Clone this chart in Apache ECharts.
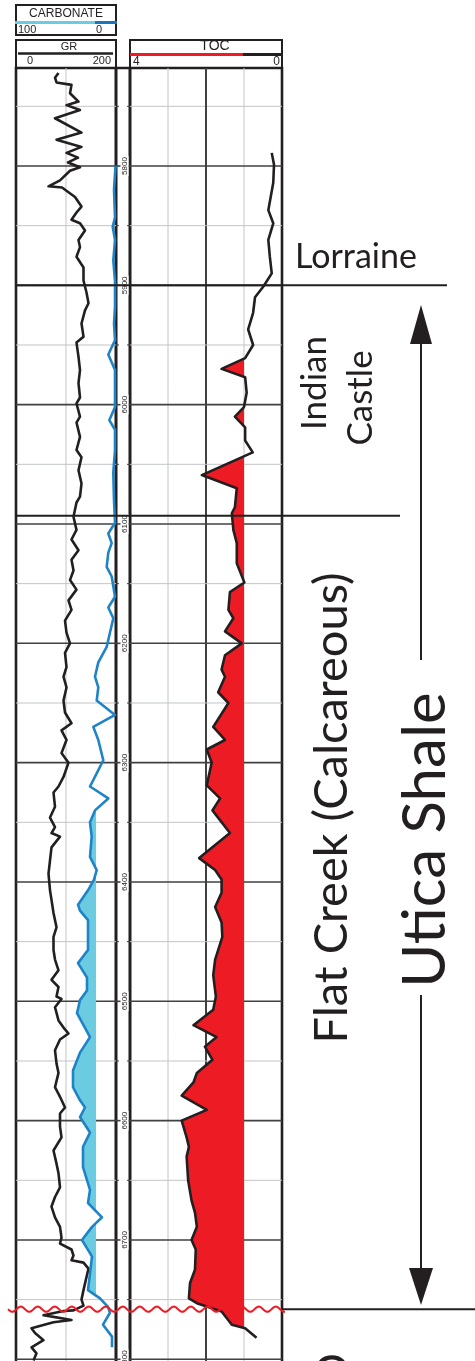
<!DOCTYPE html>
<html><head><meta charset="utf-8">
<script src="https://cdn.jsdelivr.net/npm/echarts@6/dist/echarts.min.js"></script>
<style>html,body{margin:0;padding:0;background:#fff;}#c{width:475px;height:1361px;}</style>
</head><body><div id="c"></div>
<script>
// ---------------- DATA ----------------
const grDepths = [5722,5726,5730,5732,5739,5746,5749,5753,5760,5772,5778,5784,5789,5793,5797,5801,5804,5812,5817,5818,5826,5834,5839,5845,5848,5854,5862,5868,5876,5885,5896,5906,5915,5921,5932,5943,5948,5960,5971,5982,5994,5999,6010,6015,6027,6038,6044,6055,6066,6077,6082,6094,6105,6113,6122,6130,6139,6147,6155,6164,6172,6181,6191,6200,6208,6220,6228,6237,6248,6258,6267,6273,6281,6292,6300,6312,6320,6325,6337,6346,6354,6359,6362,6371,6382,6393,6407,6415,6426,6438,6446,6457,6465,6474,6482,6488,6496,6498,6505,6516,6522,6527,6532,6541,6552,6560,6572,6580,6589,6594,6605,6614,6625,6636,6644,6656,6664,6672,6681,6689,6698,6703,6708,6713,6717,6719,6724,6731,6742,6750,6755,6759,6759.5,6763,6767,6769,6774,6778,6784,6790,6795,6801];
const grValues = [85,78,81,111,108,125,101,128,78,131,81,131,101,124,104,128,108,88,65,92,118,131,121,111,128,138,125,128,121,135,135,141,145,138,131,135,121,125,128,125,128,121,128,121,128,121,131,125,131,128,121,115,121,111,125,111,115,108,121,105,111,98,101,108,98,101,95,101,95,98,111,91,101,91,105,95,85,75,78,68,78,71,88,71,68,65,68,71,75,81,75,75,78,85,71,85,81,91,78,85,95,105,88,78,81,85,78,88,98,88,88,91,75,81,85,88,78,71,78,88,91,88,111,115,111,135,145,141,135,131,135,115,95,55,111,75,31,38,55,31,41,35];

const carbDepths = [5800,5820,5843,5851,5862,5879,5896,5918,5932,5946,5958,5971,5990,6002,6013,6021,6038,6057,6080,6099,6108,6116,6124,6136,6144,6161,6170,6179,6191,6203,6216,6228,6237,6248,6260,6270,6281,6298,6309,6320,6330,6340,6350,6362,6379,6390,6398,6407,6419,6424,6432,6443,6457,6468,6480,6491,6499,6510,6530,6543,6558,6572,6583,6589,6597,6610,6622,6639,6658,6669,6681,6689,6700,6711,6714,6728,6742,6749,6756,6761,6771,6781,6790];
const carbValues = [0.5,2,1,3.3,1,2.7,1,1,2,1,7.7,1,1,1,6.7,1,1,2.7,2,1,7.7,4.3,7.7,9.3,4.3,1,7.7,2.7,6,9.3,17.7,21,17.7,19.3,1,22.7,17.7,12.7,19.3,26,7.7,21,26,24.3,26,19.3,22,28,38,36,28,28,28,38,29,29,36,39,26,36,43,43,36,31,36,26,33,33,26,28,14,24,34,26,24,26,28,16,8,6,13,4,4];

const tocDepths = [5789,5799,5814,5837,5848,5862,5876,5890,5901,5910,5923,5937,5950,5961,5970,5977,5990,6002,6010,6019,6030,6040,6059,6070,6086,6091,6105,6116,6133,6149,6157,6172,6179,6190,6200,6210,6222,6228,6241,6250,6270,6281,6289,6300,6319,6330,6340,6359,6380,6390,6398,6409,6421,6434,6446,6465,6478,6496,6507,6520,6530,6538,6549,6560,6568,6579,6591,6600,6614,6622,6630,6650,6667,6677,6689,6700,6708,6725,6736,6749,6753,6760,6771,6774,6782];
const tocValues = [0.27,0.21,0.23,0.36,0.23,0.36,0.32,0.27,0.49,0.71,0.76,0.89,0.76,0.97,1.59,0.97,0.93,1.0,1.24,0.97,0.97,0.77,2.11,1.19,1.24,1.32,1.28,1.19,1.19,0.99,1.37,1.41,1.28,1.5,1.06,1.5,1.59,1.5,1.68,1.41,1.81,1.5,1.98,1.85,1.98,1.63,1.83,1.37,2.18,1.76,1.59,1.59,1.76,1.59,1.57,1.76,1.81,1.74,1.81,2.33,1.72,2.03,1.83,2.24,2.33,2.64,1.98,2.64,2.51,2.45,2.51,2.47,2.38,2.29,2.24,2.38,2.27,2.29,2.42,2.45,2.24,1.59,1.32,0.97,0.67];

const depthGrid = [5750,5800,5850,5900,5950,6000,6050,6100,6150,6200,6250,6300,6350,6400,6450,6500,6550,6600,6650,6700,6750,6800];
const depthLabelValues = [5800,5900,6000,6100,6200,6300,6400,6500,6600,6700,6800];
const depthLabelTexts = ['5800','5900','6000','6100','6200','6300','6400','6500','6600','6700','6800'];

const formationTops = [5900, 6093, 6758];   // Lorraine base, Flat Creek top, Utica base
const tocCutoff = 1;
const carbCutoff = 20;
const carbFillFrom = 6338;

// ---------------- LAYOUT ----------------
const TOP = 68, H = 1300;
const PX_PER_FT = 1.1933;
const DMIN = 5800 - (166 - TOP) / PX_PER_FT;
const DMAX = DMIN + H / PX_PER_FT;
const INK = '#231f20', MAJOR = '#414042', MINOR = '#c3c4c6';
const RED = '#ed1c24', BLUE = '#1f84c6', LBLUE = '#6bcbe0', DBLUE = '#1b75bc';

const pairs = (ds, vs) => ds.map((d, i) => [vs[i], d]);

function buildFill(depths, values, cutoff, dFrom) {
  const pts = [];
  let started = false;
  for (let i = 0; i < depths.length; i++) {
    const d = depths[i], v = values[i];
    if (d < dFrom) continue;
    if (started) {
      const pd = depths[i - 1], pv = values[i - 1];
      if ((pv - cutoff) * (v - cutoff) < 0) {
        const t = (cutoff - pv) / (v - pv);
        pts.push([cutoff, pd + t * (d - pd)]);
      }
    }
    pts.push([Math.max(v, cutoff), d]);
    started = true;
  }
  pts.push([cutoff, pts[pts.length - 1][1]]);
  pts.push([cutoff, pts[0][1]]);
  return pts;
}
const tocFill = buildFill(tocDepths, tocValues, tocCutoff, 0);
const carbFill = buildFill(carbDepths, carbValues, carbCutoff, carbFillFrom);

function gridLines(xi, yi, xmin, xmax, vlines) {
  return {
    type: 'custom', xAxisIndex: xi, yAxisIndex: yi, z: 1, silent: true,
    data: depthGrid.map(d => [xmin, d]),
    encode: { x: 0, y: 1 },
    renderItem(params, api) {
      const d = api.value(1);
      const a = api.coord([xmin, d]), b = api.coord([xmax, d]);
      const major = d % 100 === 0;
      const children = [{ type: 'line', shape: { x1: a[0], y1: a[1], x2: b[0], y2: b[1] },
        style: { stroke: major ? MAJOR : MINOR, lineWidth: major ? 1.6 : 1 } }];
      if (params.dataIndex === 0 && vlines) {
        vlines.forEach(v => {
          const t = api.coord([v.x, DMIN]), u = api.coord([v.x, DMAX]);
          children.push({ type: 'line', shape: { x1: t[0], y1: t[1], x2: u[0], y2: u[1] },
            style: { stroke: v.major ? MAJOR : MINOR, lineWidth: v.major ? 2 : 1 } });
        });
      }
      return { type: 'group', children };
    }
  };
}

const gridBase = { top: TOP, height: H, show: true, borderColor: INK, borderWidth: 2.6, backgroundColor: 'transparent', outerBoundsMode: 'none', containLabel: false };

const option = {
  animation: false,
  backgroundColor: '#fff',
  grid: [
    Object.assign({ left: 16, width: 100 }, gridBase),
    Object.assign({ left: 116, width: 14 }, gridBase),
    Object.assign({ left: 130, width: 152 }, gridBase)
  ],
  xAxis: [
    { gridIndex: 0, type: 'value', min: 0, max: 200, show: false },
    { gridIndex: 0, type: 'value', min: 0, max: 100, inverse: true, show: false },
    { gridIndex: 1, type: 'value', min: 0, max: 1, show: false },
    { gridIndex: 2, type: 'value', min: 0, max: 4, inverse: true, show: false }
  ],
  yAxis: [0, 1, 2].map(g => ({ gridIndex: g, type: 'value', min: DMIN, max: DMAX, inverse: true, show: false })),
  series: [
    gridLines(0, 0, 0, 200, [{ x: 100 }]),
    gridLines(3, 2, 0, 4, [{ x: 1 }, { x: 2, major: true }, { x: 3 }]),
    {
      type: 'custom', xAxisIndex: 2, yAxisIndex: 1, z: 1, silent: true,
      data: depthGrid.map(d => [0, d]), encode: { x: 0, y: 1 },
      renderItem(params, api) {
        const d = api.value(1);
        const a = api.coord([0, d]), b = api.coord([1, d]);
        const li = depthLabelValues.indexOf(d);
        const ch = [];
        if (d % 100 === 0) {
          ch.push({ type: 'line', shape: { x1: a[0], y1: a[1], x2: b[0], y2: b[1] }, style: { stroke: MAJOR, lineWidth: 1.6 } });
        } else {
          ch.push({ type: 'line', shape: { x1: a[0], y1: a[1], x2: a[0] + 3, y2: a[1] }, style: { stroke: MAJOR, lineWidth: 1 } });
          ch.push({ type: 'line', shape: { x1: b[0] - 3, y1: b[1], x2: b[0], y2: b[1] }, style: { stroke: MAJOR, lineWidth: 1 } });
        }
        if (li >= 0) {
          ch.push({ type: 'text', x: a[0] + 8.5, y: a[1], rotation: Math.PI / 2,
            style: { text: depthLabelTexts[li], fontSize: 8, fontFamily: 'Liberation Sans', fill: INK,
              align: 'center', verticalAlign: 'middle', backgroundColor: '#fff', padding: [0, 1] } });
        }
        return { type: 'group', children: ch };
      }
    },
    {
      type: 'custom', xAxisIndex: 1, yAxisIndex: 0, z: 2, silent: true,
      data: [[carbCutoff, carbFillFrom]], encode: { x: 0, y: 1 },
      renderItem: (p, api) => ({ type: 'polygon', shape: { points: carbFill.map(q => api.coord(q)) }, style: { fill: LBLUE } })
    },
    {
      type: 'custom', xAxisIndex: 3, yAxisIndex: 2, z: 2, silent: true,
      data: [[tocCutoff, tocDepths[0]]], encode: { x: 0, y: 1 },
      renderItem: (p, api) => ({ type: 'polygon', shape: { points: tocFill.map(q => api.coord(q)) }, style: { fill: RED } })
    },
    { name: 'GR', type: 'line', xAxisIndex: 0, yAxisIndex: 0, z: 3, data: pairs(grDepths, grValues),
      symbol: 'none', lineStyle: { color: INK, width: 2.6, join: 'round' } },
    { name: 'CARBONATE', type: 'line', xAxisIndex: 1, yAxisIndex: 0, z: 3, data: pairs(carbDepths, carbValues),
      symbol: 'none', lineStyle: { color: BLUE, width: 2.6, join: 'round' } },
    { name: 'TOC', type: 'line', xAxisIndex: 3, yAxisIndex: 2, z: 3, data: pairs(tocDepths, tocValues),
      symbol: 'none', lineStyle: { color: INK, width: 2.6, join: 'round' } },
    {
      type: 'custom', xAxisIndex: 0, yAxisIndex: 0, z: 5, silent: true, clip: false,
      data: formationTops.map(d => [0, d]), encode: { x: 0, y: 1 },
      renderItem(params, api) {
        const d = api.value(1);
        const p = api.coord([0, d]);
        const y = p[1];
        const i = params.dataIndex;
        if (i < 2) {
          const xEnd = i === 0 ? 447 : 400;
          return { type: 'line', shape: { x1: p[0], y1: y, x2: xEnd, y2: y }, style: { stroke: INK, lineWidth: 2 } };
        }
        const pts = [];
        for (let x = 8; x <= 285; x += 1) pts.push([x, y + 2.6 * Math.sin((x - 8) / 17 * 2 * Math.PI)]);
        return { type: 'group', children: [
          { type: 'line', shape: { x1: 283, y1: y, x2: 475, y2: y }, style: { stroke: INK, lineWidth: 2 } },
          { type: 'polyline', shape: { points: pts }, style: { stroke: RED, lineWidth: 2, fill: null } }
        ] };
      }
    }
  ],
  graphic: [
    // CARBONATE header
    { type: 'rect', shape: { x: 16, y: 5, width: 100, height: 30 }, style: { fill: 'none', stroke: INK, lineWidth: 2 } },
    { type: 'text', x: 66, y: 13.5, style: { text: 'CARBONATE', fontSize: 12, fontFamily: 'Liberation Sans', fill: INK, align: 'center', verticalAlign: 'middle' } },
    { type: 'line', shape: { x1: 15, y1: 22.5, x2: 95, y2: 22.5 }, style: { stroke: LBLUE, lineWidth: 3 } },
    { type: 'line', shape: { x1: 95, y1: 22.5, x2: 117, y2: 22.5 }, style: { stroke: DBLUE, lineWidth: 3 } },
    { type: 'text', x: 18, y: 29.5, style: { text: '100', fontSize: 11, fontFamily: 'Liberation Sans', fill: INK, align: 'left', verticalAlign: 'middle' } },
    { type: 'text', x: 102, y: 29.5, style: { text: '0', fontSize: 11, fontFamily: 'Liberation Sans', fill: INK, align: 'right', verticalAlign: 'middle' } },
    // GR header
    { type: 'rect', shape: { x: 16, y: 40, width: 100, height: 28 }, style: { fill: 'none', stroke: INK, lineWidth: 2 } },
    { type: 'text', x: 69, y: 46.5, style: { text: 'GR', fontSize: 11, fontFamily: 'Liberation Sans', fill: INK, align: 'center', verticalAlign: 'middle' } },
    { type: 'line', shape: { x1: 18, y1: 53.5, x2: 113, y2: 53.5 }, style: { stroke: INK, lineWidth: 2.5 } },
    { type: 'text', x: 30, y: 61, style: { text: '0', fontSize: 11, fontFamily: 'Liberation Sans', fill: INK, align: 'center', verticalAlign: 'middle' } },
    { type: 'text', x: 111, y: 61, style: { text: '200', fontSize: 11, fontFamily: 'Liberation Sans', fill: INK, align: 'right', verticalAlign: 'middle' } },
    // TOC header
    { type: 'rect', shape: { x: 130, y: 40, width: 152, height: 28 }, style: { fill: 'none', stroke: INK, lineWidth: 2 } },
    { type: 'text', x: 215, y: 46.5, style: { text: 'TOC', fontSize: 14, fontFamily: 'Liberation Sans', fill: INK, align: 'center', verticalAlign: 'middle' } },
    { type: 'line', shape: { x1: 130, y1: 54.5, x2: 243, y2: 54.5 }, style: { stroke: RED, lineWidth: 3 } },
    { type: 'line', shape: { x1: 243, y1: 54.5, x2: 283, y2: 54.5 }, style: { stroke: INK, lineWidth: 3 } },
    { type: 'text', x: 133, y: 61.5, style: { text: '4', fontSize: 12, fontFamily: 'Liberation Sans', fill: INK, align: 'left', verticalAlign: 'middle' } },
    { type: 'text', x: 280, y: 61.5, style: { text: '0', fontSize: 12, fontFamily: 'Liberation Sans', fill: INK, align: 'right', verticalAlign: 'middle' } },
    // formation labels
    { type: 'text', x: 295, y: 257, style: { text: 'Lorraine', fontSize: 34, fontFamily: 'Lato', fill: INK, align: 'left', verticalAlign: 'middle' } },
    { type: 'text', x: 315, y: 383, rotation: Math.PI / 2, style: { text: 'Indian', fontSize: 35, fontFamily: 'Lato', fill: INK, align: 'center', verticalAlign: 'middle' } },
    { type: 'text', x: 361, y: 398, rotation: Math.PI / 2, style: { text: 'Castle', fontSize: 35, fontFamily: 'Lato', fill: INK, align: 'center', verticalAlign: 'middle' } },
    { type: 'text', x: 332, y: 808, rotation: Math.PI / 2, style: { text: 'Flat Creek (Calcareous)', fontSize: 47, fontFamily: 'Lato', fill: INK, align: 'center', verticalAlign: 'middle' } },
    { type: 'text', x: 426, y: 840, rotation: Math.PI / 2, style: { text: 'Utica Shale', fontSize: 60, fontFamily: 'Lato', fill: INK, align: 'center', verticalAlign: 'middle' } },
    { type: 'text', x: 331, y: 1368, rotation: -Math.PI / 2, style: { text: 'C', fontSize: 45, fontFamily: 'Lato', fill: INK, align: 'center', verticalAlign: 'middle' } },
    // Utica arrow
    { type: 'polygon', shape: { points: [[410, 344], [432, 344], [421, 305]] }, style: { fill: INK } },
    { type: 'line', shape: { x1: 421, y1: 343, x2: 421, y2: 660 }, style: { stroke: INK, lineWidth: 2 } },
    { type: 'line', shape: { x1: 421, y1: 995, x2: 421, y2: 1270 }, style: { stroke: INK, lineWidth: 2 } },
    { type: 'polygon', shape: { points: [[409, 1268], [433, 1268], [421, 1305]] }, style: { fill: INK } }
  ]
};

const chart = echarts.init(document.getElementById('c'), null, { renderer: 'canvas' });
chart.setOption(option);
</script>
</body></html>
